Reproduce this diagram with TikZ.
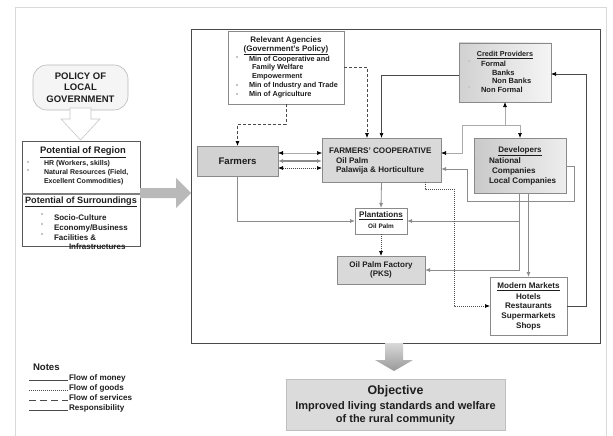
\documentclass[tikz,border=0pt]{standalone}
\usepackage{fontspec}
\setmainfont{Liberation Sans}
\usetikzlibrary{arrows.meta}
\definecolor{ink}{HTML}{1E1E1E}
\definecolor{edge}{HTML}{8A8A8A}
\definecolor{dark}{HTML}{4A4A4A}
\definecolor{mid}{HTML}{8C8C8C}
\definecolor{light}{HTML}{ABABAB}
\begin{document}
\begin{tikzpicture}[x=1pt,y=-1pt,
  lbl/.style={inner sep=0pt,outer sep=0pt,text=ink},
  fsz/.style={font=\bfseries\fontsize{#1}{#1}\selectfont},
  box/.style={draw=edge,line width=0.6pt,inner sep=0pt,outer sep=0pt,anchor=north west},
  bul/.style={fill=gray!45,inner sep=0pt,minimum size=1.6pt},
  head/.style={-{Latex[length=5pt,width=4pt,color=#1]}},
  dhead/.style={{Latex[length=5pt,width=4pt,color=#1]}-{Latex[length=5pt,width=4pt,color=#1]}},
  svc/.style={dash pattern=on 3pt off 2pt},
  goods/.style={dash pattern=on 1pt off 1pt},
]
\useasboundingbox (0,0) rectangle (613,436);

% page frame
\draw[gray!30,line width=0.8pt] (15,436) -- (15,7) -- (606,7) -- (606,436);

% ---------- left column ----------
\node[box,draw=gray!55,fill=gray!8,rounded corners=14pt,minimum width=95,minimum height=45] (policy) at (33,65) {};
\node[lbl,align=center,font=\bfseries\fontsize{9.5}{11.5}\selectfont] (policyt) at (80.5,87.5) {POLICY OF\\LOCAL\\GOVERNMENT};
\draw[gray!45,fill=white,line width=0.6pt] (70,108) -- (91,108) -- (91,119) -- (100,119) -- (80.5,140) -- (61,119) -- (70,119) -- cycle;

\node[box,fill=white,draw=gray!70!black,minimum width=118,minimum height=105] (pot) at (22,141) {};
\draw[gray,line width=1.3pt] (22,194) -- (140,194);
\node[lbl,fsz=9.4] (potr) at (83,152.5) {\underline{Potential of Region}};
\node[bul] (pb1) at (28,162) {};
\node[bul] (pb2) at (28,170) {};
\node[lbl,fsz=7,anchor=west] (pr1) at (44,164) {HR (Workers, skills)};
\node[lbl,fsz=7,anchor=west] (pr2) at (44,173) {Natural Resources (Field,};
\node[lbl,fsz=7,anchor=west] (pr3) at (44,182) {Excellent Commodities)};
\node[lbl,fsz=9.1] (pots) at (81,202) {\underline{Potential of Surroundings}};
\node[bul] (sb1) at (42,214) {};
\node[bul] (sb2) at (42,224) {};
\node[bul] (sb3) at (42,234) {};
\node[lbl,fsz=8,anchor=west] (ps1) at (54,218) {Socio-Culture};
\node[lbl,fsz=8,anchor=west] (ps2) at (54,228) {Economy/Business};
\node[lbl,fsz=8,anchor=west] (ps3) at (54,237.5) {Facilities \&};
\node[lbl,fsz=8,anchor=west] (ps4) at (69,247) {Infrastructures};

% wide arrow into the main frame
\fill[gray!55] (140,188) -- (176,188) -- (176,178) -- (191,193) -- (176,208) -- (176,198) -- (140,198) -- cycle;

% legend
\node[lbl,fsz=9.6,anchor=west] (notes) at (33,367) {Notes};
\coordinate (l1) at (29,380); \coordinate (l2) at (29,390);
\coordinate (l3) at (29,400); \coordinate (l4) at (29,410.5);
\draw[dark,line width=0.7pt] (l1) -- ++(39,0);
\draw[dark,line width=0.7pt,goods] (l2) -- ++(39,0);
\draw[dark,line width=0.7pt,dash pattern=on 7pt off 4pt] (l3) -- ++(39,0);
\draw[dark,line width=0.7pt] (l4) -- ++(39,0);
\node[lbl,fsz=8.1,anchor=west] (n1) at (69,378) {Flow of money};
\node[lbl,fsz=8.1,anchor=west] (n2) at (69,388) {Flow of goods};
\node[lbl,fsz=8.1,anchor=west] (n3) at (69,398) {Flow of services};
\node[lbl,fsz=8.1,anchor=west] (n4) at (69,408) {Responsibility};

% ---------- main frame ----------
\node[box,draw=dark,line width=0.8pt,minimum width=409,minimum height=314] (main) at (191,29) {};

% relevant agencies
\node[box,fill=white,minimum width=116,minimum height=73] (ra) at (228,31) {};
\node[lbl,fsz=8] (rat) at (286,40.5) {Relevant Agencies};
\node[lbl,fsz=8] (ras) at (286,50) {\underline{(Government's Policy)}};
\node[bul] (rb1) at (237,57) {};
\node[bul] (rb2) at (237,85) {};
\node[bul] (rb3) at (237,94) {};
\node[lbl,fsz=7.3,anchor=west] (ra1) at (249,59.5) {Min of Cooperative and};
\node[lbl,fsz=7.3,anchor=west] (ra2) at (252,68) {Family Welfare};
\node[lbl,fsz=7.3,anchor=west] (ra3) at (252,77) {Empowerment};
\node[lbl,fsz=7.3,anchor=west] (ra4) at (249,86) {Min of Industry and Trade};
\node[lbl,fsz=7.3,anchor=west] (ra5) at (249,95) {Min of Agriculture};

% credit providers
\node[box,left color=gray!36,right color=gray!8,minimum width=92,minimum height=59] (cp) at (459,43) {};
\node[lbl,fsz=7.2] (cpt) at (505,55) {\underline{Credit Providers}};
\node[bul] (cb1) at (469,61) {};
\node[bul] (cb2) at (469,87) {};
\node[lbl,fsz=7.5,anchor=west] (cp1) at (481,64) {Formal};
\node[lbl,fsz=7.5,anchor=west] (cp2) at (492,72.5) {Banks};
\node[lbl,fsz=7.5,anchor=west] (cp3) at (492,81) {Non Banks};
\node[lbl,fsz=7.5,anchor=west] (cp4) at (481,90) {Non Formal};

% farmers
\node[box,fill=gray!35,minimum width=81,minimum height=30] (farm) at (197,146) {};
\node[lbl,fsz=9.6] (farmt) at (237.5,161) {Farmers};

% cooperative
\node[box,fill=gray!30,minimum width=119,minimum height=44] (coop) at (322,138) {};
\node[lbl,fsz=8.1,anchor=west] (coopt) at (329,151) {FARMERS' COOPERATIVE};
\node[lbl,fsz=8.1,anchor=west] (coop1) at (336,160.5) {Oil Palm};
\node[lbl,fsz=8.1,anchor=west] (coop2) at (336,170) {Palawija \& Horticulture};

% developers
\node[box,left color=gray!42,right color=gray!14,minimum width=92,minimum height=55] (dev) at (474,138) {};
\node[lbl,fsz=8] (devt) at (520,151) {\underline{Developers}};
\node[bul] (db1) at (476,158) {};
\node[bul] (db2) at (476,177) {};
\node[lbl,fsz=8.1,anchor=west] (dev1) at (489,161) {National};
\node[lbl,fsz=8.1,anchor=west] (dev2) at (492,171) {Companies};
\node[lbl,fsz=8.1,anchor=west] (dev3) at (489,181) {Local Companies};

% plantations
\node[box,fill=white,minimum width=52,minimum height=26] (pl) at (355,208) {};
\node[lbl,fsz=8.1] (plt) at (381,216) {\underline{Plantations}};
\node[lbl,fsz=6.4] (pl1) at (381,226.5) {Oil Palm};

% factory
\node[box,left color=gray!30,middle color=gray!6,right color=gray!30,minimum width=88,minimum height=28] (fac) at (337,256) {};
\node[lbl,fsz=8] (fac1) at (381,265) {Oil Palm Factory};
\node[lbl,fsz=8] (fac2) at (381,274.5) {(PKS)};

% modern markets
\node[box,fill=white,minimum width=77,minimum height=58] (mm) at (490,277) {};
\node[lbl,fsz=8.1] (mmt) at (528.5,287) {\underline{Modern Markets}};
\node[lbl,fsz=8.1] (mm1) at (528.5,296.5) {Hotels};
\node[lbl,fsz=8.1] (mm2) at (528.5,306) {Restaurants};
\node[lbl,fsz=8.1] (mm3) at (528.5,316) {Supermarkets};
\node[lbl,fsz=8.1] (mm4) at (528.5,326) {Shops};

% ---------- connectors ----------
% services from the agencies
\draw[dark,line width=0.7pt,svc,head=black] (ra.south) -- (286,124) -| (farm.north);
\draw[dark,line width=0.7pt,svc,head=black] (ra.east |- 0,67) -| (coop.north -| 367,0);
% credit to the cooperative
\draw[dark,line width=0.7pt,head=black] (cp.west |- 0,75) -| (coop.north);
% credit links to cooperative and developers
\coordinate (cj) at (505,125);
\draw[light,line width=0.7pt,head=black] (cj) -- (cp.south);
\draw[light,line width=0.7pt,head=black] (cj) -| (dev.north);
\draw[light,line width=0.7pt,head=black] (cj) -- (462,125) |- (coop.east |- 0,153);
% developers back to the cooperative
\draw[mid,line width=0.8pt,head=mid] (dev.east |- 0,166) -- (574,166) -- (574,201) -- (467,201) |- (coop.east |- 0,169);
% developers to plantations, factory and markets
\draw[mid,line width=0.8pt,head=mid] (dev.south -| 519,0) |- (fac.east);
\draw[mid,line width=0.8pt,head=mid] (519,221) -- (pl.east);
\draw[mid,line width=0.8pt,head=mid] (mm.north |- dev.south) -- (mm.north);
% markets pay the credit providers
\draw[dark,line width=0.7pt,head=black] (mm.east) -| (586,74) -- (cp.east |- 0,74);
% cooperative to plantations
\draw[mid,line width=0.8pt,head=mid] (coop.south) -- (pl.north);
% goods from the cooperative to the markets
\draw[dark,line width=0.7pt,goods,head=black] (coop.south -| 425,0) -- (425,189) -- (454,189) |- (mm.west);
% farmers to plantations
\draw[mid,line width=0.8pt,head=mid] (farm.south) |- (pl.west);
% plantations to factory
\draw[dark,line width=0.7pt,goods,head=black] (pl.south) -- (fac.north);
% farmers and cooperative, both ways
\draw[light,line width=0.5pt,dhead=black] (farm.east |- 0,153) -- (coop.west |- 0,153);
\draw[mid,line width=1.2pt,dhead=mid] (farm.east |- 0,161) -- (coop.west |- 0,161);
\draw[dark,line width=0.7pt,goods,dhead=black] (farm.east |- 0,168) -- (coop.west |- 0,168);

% ---------- objective ----------
\shade[top color=gray!30,bottom color=gray!80] (385,343) -- (403,343) -- (403,360) -- (413,360) -- (394,371) -- (375,360) -- (385,360) -- cycle;
\node[box,fill=gray!28,draw=gray!50,minimum width=219,minimum height=51] (obj) at (286,379) {};
\node[lbl,fsz=12.4] (objt) at (395.5,391) {Objective};
\node[lbl,fsz=11] (obj1) at (395.5,407) {Improved living standards and welfare};
\node[lbl,fsz=11] (obj2) at (395.5,420) {of the rural community};
\end{tikzpicture}
\end{document}
